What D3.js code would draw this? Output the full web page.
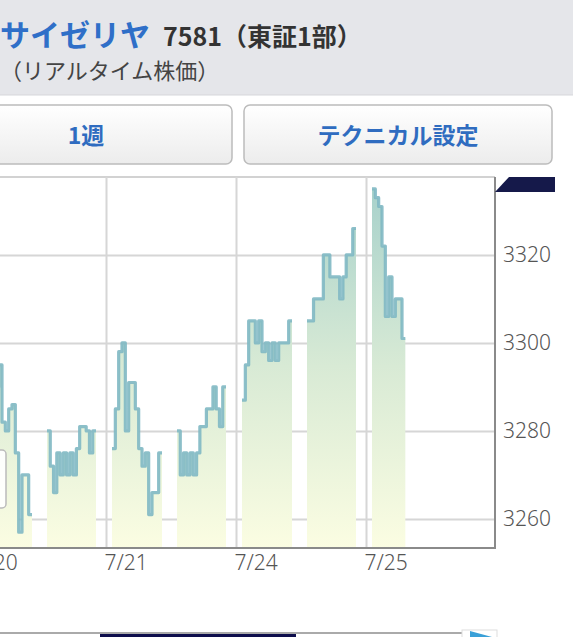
<!DOCTYPE html>
<html>
<head>
<meta charset="utf-8">
<script src="https://cdn.jsdelivr.net/npm/d3@7"></script>
<style>
  body { margin: 0; background: #fff; }
  svg { display: block; font-family: "Noto Sans CJK JP", "Noto Sans", sans-serif; }
</style>
</head>
<body>
<div id="chart"></div>
<script>
// trading days shown on the x axis
const days = ["7/20", "7/21", "7/24", "7/25"];
const yTicks = [3260, 3280, 3300, 3320];

// prices every 10 minutes, morning (9:00-) and afternoon (12:30-) sessions
const am720 = [3284, 3288, 3290, 3292, 3290, 3295, 3282, 3280, 3285, 3286, 3275, 3257, 3270, 3270, 3261];
const pm720 = [3280, 3272, 3266, 3275, 3270, 3275, 3270, 3275, 3270, 3276, 3281, 3281, 3280, 3275, 3280];
const am721 = [3276, 3285, 3298, 3300, 3280, 3291, 3291, 3285, 3276, 3272, 3275, 3261, 3266, 3266, 3275];
const pm721 = [3280, 3270, 3275, 3270, 3275, 3270, 3275, 3281, 3281, 3285, 3285, 3290, 3285, 3281, 3290];
const am724 = [3287, 3295, 3305, 3305, 3300, 3305, 3298, 3300, 3296, 3300, 3296, 3300, 3300, 3300, 3305];
const pm724 = [3305, 3305, 3310, 3310, 3310, 3320, 3320, 3315, 3315, 3315, 3310, 3315, 3320, 3320, 3326];
const am725 = [3335, 3333, 3331, 3322, 3306, 3315, 3306, 3310, 3310, 3301];

const sessions = [
  {day: 0, start: 0, values: am720},
  {day: 0, start: 210, values: pm720},
  {day: 1, start: 0, values: am721},
  {day: 1, start: 210, values: pm721},
  {day: 2, start: 0, values: am724},
  {day: 2, start: 210, values: pm724},
  {day: 3, start: 0, values: am725}
];

const width = 573, height = 637;
const plotTop = 177, plotBottom = 548, plotRight = 495;

const svg = d3.select("#chart").append("svg")
  .attr("width", width)
  .attr("height", height);

const defs = svg.append("defs");
const fillGrad = defs.append("linearGradient")
  .attr("id", "fillGrad")
  .attr("gradientUnits", "userSpaceOnUse")
  .attr("x1", 0).attr("x2", 0).attr("y1", 185).attr("y2", plotBottom);
fillGrad.append("stop").attr("offset", 0).attr("stop-color", "#a7d1cb");
fillGrad.append("stop").attr("offset", 0.5).attr("stop-color", "#d8ead5");
fillGrad.append("stop").attr("offset", 1).attr("stop-color", "#fbfde2");

const btnGrad = defs.append("linearGradient")
  .attr("id", "btnGrad").attr("x1", 0).attr("x2", 0).attr("y1", 0).attr("y2", 1);
btnGrad.append("stop").attr("offset", 0).attr("stop-color", "#ffffff");
btnGrad.append("stop").attr("offset", 1).attr("stop-color", "#ececec");

// header
svg.append("rect")
  .attr("x", 0).attr("y", 0).attr("width", width).attr("height", 95)
  .attr("fill", "#e5e6ea");
svg.append("line")
  .attr("x1", 0).attr("x2", width).attr("y1", 95).attr("y2", 95)
  .attr("stroke", "#d6d7db");

const title = svg.append("text").attr("x", 0).attr("y", 46);
title.append("tspan")
  .attr("font-size", 30).attr("font-weight", "bold").attr("fill", "#2f6fc8")
  .text("サイゼリヤ");
title.append("tspan")
  .attr("dx", 13)
  .attr("font-size", 25).attr("font-weight", "bold").attr("fill", "#333")
  .text("7581（東証1部）");

svg.append("text")
  .attr("x", 0).attr("y", 79)
  .attr("font-size", 22).attr("fill", "#444")
  .text("（リアルタイム株価）");

// buttons
const buttons = [
  {label: "1週", x: -60, w: 292},
  {label: "テクニカル設定", x: 244, w: 308}
];
const btn = svg.append("g").selectAll("g")
  .data(buttons)
  .join("g");
btn.append("rect")
  .attr("x", d => d.x).attr("y", 105)
  .attr("width", d => d.w).attr("height", 59)
  .attr("rx", 6)
  .attr("fill", "url(#btnGrad)")
  .attr("stroke", "#bcbcbc")
  .attr("stroke-width", 1.5);
btn.append("text")
  .attr("x", d => d.x + d.w / 2).attr("y", 133.5)
  .attr("text-anchor", "middle")
  .attr("dominant-baseline", "central")
  .attr("font-size", 23).attr("font-weight", "bold").attr("fill", "#2f6cc0")
  .text(d => d.label);

// scales
const y = d3.scaleLinear()
  .domain([3253.4, 3337.7])
  .range([plotBottom, plotTop]);

const dayX = d3.scaleLinear()
  .domain([0, 1])
  .range([-24, 106]);

// minutes since 9:00 -> offset inside the day slot (lunch gap squeezed)
const intraday = d3.scaleLinear()
  .domain([0, 150, 210, 360])
  .range([6, 56, 71, 120]);

const px = d => dayX(d.day) + intraday(d.t);

// top border
svg.append("line")
  .attr("x1", 0).attr("x2", plotRight)
  .attr("y1", plotTop).attr("y2", plotTop)
  .attr("stroke", "#d2d2d2").attr("stroke-width", 2);

// y grid + labels
const yAxis = svg.append("g")
  .attr("transform", `translate(${plotRight},0)`)
  .call(d3.axisRight(y)
    .tickValues(yTicks)
    .tickSize(-plotRight)
    .tickPadding(8)
    .tickFormat(d3.format("d")));
yAxis.select(".domain").remove();
yAxis.selectAll(".tick line").attr("stroke", "#d6d6d6").attr("stroke-width", 2);
yAxis.selectAll(".tick text")
  .attr("font-size", 21).attr("font-weight", 300).attr("fill", "#555")
  .attr("font-family", "'Noto Sans', sans-serif");

// x grid + labels
const xAxis = svg.append("g")
  .attr("transform", `translate(0,${plotBottom})`)
  .call(d3.axisBottom(dayX)
    .tickValues(d3.range(days.length))
    .tickSize(-(plotBottom - plotTop))
    .tickPadding(7)
    .tickFormat(i => days[i]));
xAxis.select(".domain").remove();
xAxis.selectAll(".tick line").attr("stroke", "#d6d6d6").attr("stroke-width", 2);
xAxis.selectAll(".tick text")
  .attr("text-anchor", "start")
  .attr("dx", -2)
  .attr("font-size", 21).attr("font-weight", 300).attr("fill", "#555")
  .attr("font-family", "'Noto Sans', sans-serif");

// price series
const sessionPoints = sessions.map(s => {
  const pts = s.values.map((v, i) => ({day: s.day, t: s.start + i * 10, v: v}));
  pts.push({day: s.day, t: s.start + s.values.length * 10, v: s.values[s.values.length - 1]});
  return pts;
});

const area = d3.area()
  .curve(d3.curveStepAfter)
  .x(px)
  .y0(plotBottom)
  .y1(d => y(d.v));

const line = d3.line()
  .curve(d3.curveStepAfter)
  .x(px)
  .y(d => y(d.v));

const series = svg.append("g");
series.selectAll("path.area")
  .data(sessionPoints)
  .join("path")
  .attr("class", "area")
  .attr("d", area)
  .attr("fill", "url(#fillGrad)");
series.selectAll("path.line")
  .data(sessionPoints)
  .join("path")
  .attr("class", "line")
  .attr("d", line)
  .attr("fill", "none")
  .attr("stroke", "#80b8c3")
  .attr("stroke-width", 3.2)
  .attr("stroke-linejoin", "round")
  .attr("opacity", 0.9);

// frame right + bottom
svg.append("path")
  .attr("d", `M${plotRight},${plotTop}V${plotBottom}H0`)
  .attr("fill", "none")
  .attr("stroke", "#8a8a8a")
  .attr("stroke-width", 2);

// navy tab at the top right
svg.append("path")
  .attr("d", "M509,177H555V192H495Z")
  .attr("fill", "#15194a");

// tooltip box peeking from the left edge
svg.append("rect")
  .attr("x", -40).attr("y", 450).attr("width", 46).attr("height", 58)
  .attr("rx", 4)
  .attr("fill", "#fff").attr("fill-opacity", 0.9)
  .attr("stroke", "#bbb").attr("stroke-width", 1.5);

// bottom strip
svg.append("line")
  .attr("x1", 0).attr("x2", 462).attr("y1", 633).attr("y2", 633)
  .attr("stroke", "#aaa").attr("stroke-width", 2);
svg.append("rect")
  .attr("x", 100).attr("y", 634).attr("width", 196).attr("height", 3)
  .attr("fill", "#0e0e4c");
svg.append("rect")
  .attr("x", 462).attr("y", 630).attr("width", 35).attr("height", 10)
  .attr("fill", "#fff").attr("stroke", "#ddd");
svg.append("path")
  .attr("d", "M470,631L492,637H470Z")
  .attr("fill", "#3aa0d8");
</script>
</body>
</html>
